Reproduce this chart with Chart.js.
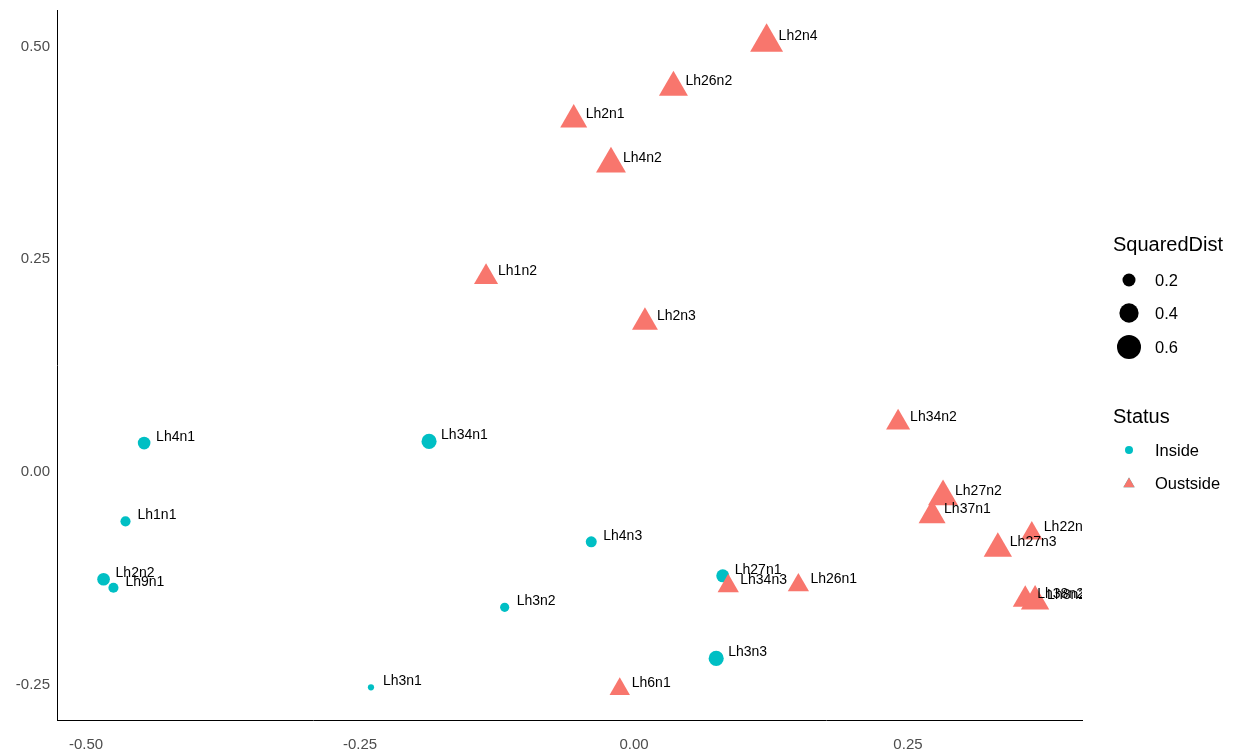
<!DOCTYPE html>
<html>
<head>
<meta charset="utf-8">
<title>SquaredDist / Status</title>
<script src="https://cdn.jsdelivr.net/npm/chart.js"></script>
<style>
  html, body { margin: 0; padding: 0; background: #fff; }
</style>
</head>
<body>
<canvas id="pcoa" width="1236" height="749"></canvas>
<script>
// samples inside the reference area
const insideNames = ["Lh4n1", "Lh34n1", "Lh1n1", "Lh2n2", "Lh9n1", "Lh4n3", "Lh3n2", "Lh3n1", "Lh27n1", "Lh3n3"];
const insideX = [-0.447, -0.187, -0.464, -0.484, -0.475, -0.039, -0.118, -0.240, 0.081, 0.075];
const insideY = [0.034, 0.036, -0.058, -0.126, -0.136, -0.082, -0.159, -0.253, -0.122, -0.219];
const insideDist = [0.19, 0.26, 0.13, 0.19, 0.13, 0.15, 0.11, 0.06, 0.20, 0.26];

// samples outside it
const outsideNames = ["Lh2n4", "Lh26n2", "Lh2n1", "Lh4n2", "Lh1n2", "Lh2n3", "Lh34n2", "Lh27n2", "Lh37n1",
  "Lh22n2", "Lh27n3", "Lh34n3", "Lh26n1", "Lh6n1", "Lh38n2", "Lh8n2"];
const outsideX = [0.121, 0.036, -0.055, -0.021, -0.135, 0.010, 0.241, 0.282, 0.272,
  0.363, 0.332, 0.086, 0.150, -0.013, 0.357, 0.366];
const outsideY = [0.505, 0.452, 0.414, 0.362, 0.229, 0.176, 0.058, -0.029, -0.051,
  -0.072, -0.090, -0.134, -0.133, -0.255, -0.150, -0.152];
const outsideDist = [0.62, 0.49, 0.43, 0.52, 0.35, 0.40, 0.35, 0.52, 0.43,
  0.28, 0.47, 0.28, 0.28, 0.26, 0.37, 0.47];

const xTicks = [-0.50, -0.25, 0.00, 0.25];
const yTicks = [-0.25, 0.00, 0.25, 0.50];
const sizeBreaks = [0.2, 0.4, 0.6];
const statusLabels = ["Inside", "Oustside"];

const insideColor = "#00BFC4";
const outsideColor = "#F8766D";

// area-style size scale, circle radius in px
function circleRadius(v) {
  return Math.max(1.5, 16.8 * Math.sqrt(v) - 1);
}
// filled triangle of equal area to the circle
function triangleRadius(v) {
  return circleRadius(v) * 1.555;
}

function toPoints(xs, ys) {
  return xs.map((x, i) => ({ x: x, y: ys[i] }));
}

Chart.defaults.font.family = "'Liberation Sans', Arial, sans-serif";

const pointLabels = {
  id: "pointLabels",
  afterDatasetsDraw(chart) {
    const ctx = chart.ctx;
    const area = chart.chartArea;
    ctx.save();
    ctx.beginPath();
    ctx.rect(area.left, area.top, area.right - area.left, area.bottom - area.top);
    ctx.clip();
    ctx.font = "14px 'Liberation Sans', Arial, sans-serif";
    ctx.fillStyle = "#000";
    ctx.textAlign = "left";
    ctx.textBaseline = "middle";
    // labels in data order, inside first
    [1, 0].forEach((di) => {
      const ds = chart.data.datasets[di];
      chart.getDatasetMeta(di).data.forEach((el, j) => {
        ctx.fillText(ds.names[j], el.x + 12, el.y - 6);
      });
    });
    ctx.restore();
  }
};

const sideLegend = {
  id: "sideLegend",
  afterDraw(chart) {
    const ctx = chart.ctx;
    const x0 = chart.chartArea.right + 31;
    const keyX = x0 + 16;
    const textX = x0 + 42;
    ctx.save();
    ctx.fillStyle = "#000";
    ctx.textAlign = "left";
    ctx.textBaseline = "middle";

    ctx.font = "20px 'Liberation Sans', Arial, sans-serif";
    ctx.fillText("SquaredDist", x0, 245);
    ctx.font = "16.5px 'Liberation Sans', Arial, sans-serif";
    const sizeRows = [280, 313, 347];
    sizeBreaks.forEach((v, i) => {
      ctx.fillStyle = "#000";
      ctx.beginPath();
      ctx.arc(keyX, sizeRows[i], circleRadius(v), 0, Math.PI * 2);
      ctx.fill();
      ctx.fillText(v.toFixed(1), textX, sizeRows[i] + 1);
    });

    ctx.font = "20px 'Liberation Sans', Arial, sans-serif";
    ctx.fillText("Status", x0, 417);
    ctx.font = "16.5px 'Liberation Sans', Arial, sans-serif";
    ctx.fillStyle = insideColor;
    ctx.beginPath();
    ctx.arc(keyX, 450, 4, 0, Math.PI * 2);
    ctx.fill();
    Chart.helpers.drawPoint(ctx, { pointStyle: "triangle", radius: 6.5, borderWidth: 0, rotation: 0 }, keyX, 484);
    ctx.fillStyle = outsideColor;
    ctx.fill();
    ctx.fillStyle = "#000";
    ctx.fillText(statusLabels[0], textX, 451);
    ctx.fillText(statusLabels[1], textX, 484);
    ctx.restore();
  }
};

new Chart(document.getElementById("pcoa"), {
  type: "scatter",
  data: {
    datasets: [
      {
        label: statusLabels[1],
        names: outsideNames,
        data: toPoints(outsideX, outsideY),
        pointStyle: "triangle",
        pointRadius: outsideDist.map(triangleRadius),
        pointHoverRadius: outsideDist.map(triangleRadius),
        backgroundColor: outsideColor,
        borderColor: outsideColor,
        borderWidth: 0,
        order: 0
      },
      {
        label: statusLabels[0],
        names: insideNames,
        data: toPoints(insideX, insideY),
        pointStyle: "circle",
        pointRadius: insideDist.map(circleRadius),
        pointHoverRadius: insideDist.map(circleRadius),
        backgroundColor: insideColor,
        borderColor: insideColor,
        borderWidth: 0,
        order: 1
      }
    ]
  },
  options: {
    responsive: false,
    animation: false,
    events: [],
    layout: { autoPadding: false, padding: { left: 0, right: 154, top: 10, bottom: 0 } },
    plugins: {
      legend: { display: false },
      tooltip: { enabled: false }
    },
    scales: {
      x: {
        type: "linear",
        min: -0.5265,
        max: 0.4088,
        grid: { display: false, drawTicks: false },
        border: { display: true, color: "#000", width: 1 },
        afterBuildTicks: (scale) => { scale.ticks = xTicks.map((v) => ({ value: v })); },
        afterFit: (scale) => {
          scale.height = 29;
          scale.paddingLeft = 0;
          scale.paddingRight = 0;
        },
        ticks: {
          padding: 16,
          color: "#4D4D4D",
          font: { size: 15 },
          callback: (v) => v.toFixed(2)
        }
      },
      y: {
        type: "linear",
        min: -0.2914,
        max: 0.5429,
        grid: { display: false, drawTicks: false },
        border: { display: true, color: "#000", width: 1 },
        afterBuildTicks: (scale) => { scale.ticks = yTicks.map((v) => ({ value: v })); },
        afterFit: (scale) => {
          scale.width = 57;
          scale.paddingTop = 0;
          scale.paddingBottom = 0;
        },
        ticks: {
          padding: 7,
          color: "#4D4D4D",
          font: { size: 15 },
          callback: (v) => v.toFixed(2)
        }
      }
    }
  },
  plugins: [pointLabels, sideLegend]
});
</script>
</body>
</html>
